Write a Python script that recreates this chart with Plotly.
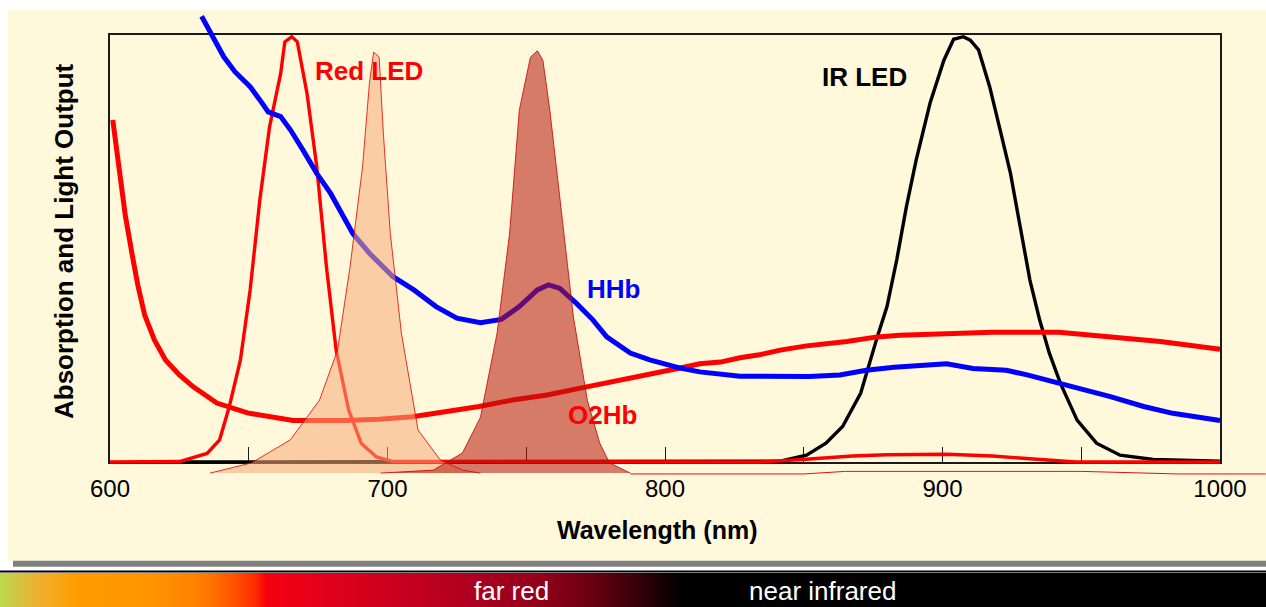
import numpy as np
import plotly.graph_objects as go

W, H = 1266, 607
FONT = "Liberation Sans, Arial, Helvetica, sans-serif"

# ---------------------------------------------------------------- data
# Oxy-haemoglobin absorption (relative units, 0-100 = plot height)
O2HB_NM = [601, 603, 605.5, 608, 610, 612.5, 616, 620, 625, 630, 638.5, 649.5,
           666, 685, 697, 709, 721.5, 733, 745, 757.5, 769.5, 787.5, 794.5,
           805.5, 812.5, 820, 827, 834, 841.5, 851, 865.5, 876.5, 884.5, 899,
           918, 942, 954, 966.5, 978.5, 1000]
O2HB_VAL = [80.1, 70.7, 57.8, 48.5, 41.5, 34.4, 28.6, 23.9, 20.4, 17.6, 13.8,
            11.5, 9.7, 9.7, 10.0, 10.6, 11.8, 13.0, 14.5, 15.7, 17.3, 19.6,
            20.4, 22.0, 23.0, 23.4, 24.4, 25.1, 26.2, 27.2, 28.2, 29.3, 29.7,
            30.1, 30.4, 30.4, 29.7, 29.0, 28.2, 26.4]

# Deoxy-haemoglobin absorption
HHB_NM = [633, 637, 641, 645, 650.5, 654, 657, 661.5, 665, 669.5, 674.5, 679.5,
          684, 687.5, 693.5, 702, 709.5, 717.5, 725, 733.5, 741, 747.5, 754,
          758, 762, 768, 774, 779, 787.5, 794.5, 805.5, 812.5, 827, 834, 852,
          863, 872.5, 882.5, 901.5, 911, 923, 930.5, 940, 949.5, 960.5, 972.5,
          983, 1000]
HHB_VAL = [104.4, 99.6, 94.9, 91.4, 87.9, 84.8, 82.0, 80.9, 77.8, 73.1, 67.6,
           62.9, 57.4, 53.5, 48.9, 43.4, 40.3, 36.4, 33.7, 32.6, 33.4, 36.4,
           40.3, 41.5, 40.7, 37.2, 33.3, 29.3, 25.5, 23.9, 22.0, 21.1, 20.1,
           20.0, 20.0, 20.4, 21.5, 22.2, 23.0, 21.9, 21.5, 20.4, 18.8, 17.3,
           15.3, 13.0, 11.4, 9.7]

# Red LED emission
RED_LED_NM = [600, 625, 635, 639.5, 643, 647, 650.5, 654, 657.5, 661.5, 663,
              665.5, 667.5, 671, 674.5, 678, 681.5, 686, 690.5, 696, 702, 834,
              849.5, 867.5, 880, 901.5, 918, 930, 948, 1000]
RED_LED_VAL = [0, 0.1, 2.0, 5.2, 13.0, 23.9, 40.3, 61.4, 78.5, 91.0, 98.4,
               99.6, 98.4, 86.3, 69.2, 45.7, 26.2, 12.2, 4.4, 1.2, 0.1, 0,
               0.6, 1.4, 1.7, 1.8, 1.4, 0.8, 0, 0]

# IR LED emission
IR_LED_NM = [627, 841.5, 851, 858, 864, 870.5, 876.5, 880, 883.5, 887, 890.5,
             895.5, 900.5, 904, 907.5, 910, 913, 917, 920.5, 924.5, 928, 931.5,
             935, 938.5, 942.5, 948.5, 955.5, 964, 976, 990, 1000]
IR_LED_VAL = [0, 0.2, 1.6, 4.4, 8.3, 16.1, 29.3, 36.4, 47.3, 59.8, 70.7, 84.0,
              94.1, 99.0, 99.6, 98.8, 96.5, 87.9, 78.5, 67.6, 55.1, 42.6, 33.3,
              25.5, 18.4, 9.8, 4.4, 1.6, 0.6, 0.3, 0.2]

# shaded emission bands (sit on a baseline slightly below zero)
BAND_695_NM = [636, 651, 665, 675.5, 682, 686.5, 691, 693.5, 695, 697, 698.5,
               701, 705, 709, 711, 719, 727, 733.5]
BAND_695_VAL = [-2.6, -0.2, 5.2, 14.5, 26.2, 45.7, 69.1, 88.8, 96.0, 94.8,
                77.0, 53.6, 30.2, 14.5, 7.5, 0.5, -1.9, -2.6]

BAND_755_NM = [697.5, 716.5, 727, 733.5, 739.5, 744, 747.5, 751.5, 754, 756,
               758.5, 763, 767, 772, 776.5, 780, 787.5]
BAND_755_VAL = [-2.6, -1.9, 2.1, 10.5, 30.2, 53.6, 82.4, 94.8, 96.3, 94.1,
                82.4, 57.4, 34.0, 14.5, 4.4, -0.2, -2.6]

BAND_NIR_NM = [787.5, 850, 865, 950, 985, 1016.5]
BAND_NIR_VAL = [-2.8, -2.8, -2.2, -2.2, -2.8, -2.8]

# wavelength axis ticks
TICK_NM = [600, 650, 700, 750, 800, 850, 900, 950, 1000]
TICK_TEXT = ["600", "", "700", "", "800", "", "900", "", "1000"]

# colour strip along the bottom: stop position (px) and colour
SPECTRUM_POS = [0, 40, 75, 150, 200, 232, 254, 266, 330, 410, 480, 540, 590,
                630, 660, 682, W]
SPECTRUM_COLORS = ["#BCD84C", "#F0AE30", "#FF9C00", "#FF9500", "#FF7F00",
                   "#FF5500", "#FF2C00", "#F5000F", "#E0001C", "#C4001E",
                   "#AA0020", "#920019", "#6A0012", "#3E000A", "#180002",
                   "#000000", "#000000"]

# ---------------------------------------------------------------- geometry
PLOT_L, PLOT_R, PLOT_T, PLOT_B = 110, 1220, 35, 462      # framed plot area
OV_L, OV_R, OV_T, OV_B = 110, 1266, 8, 484               # unclipped drawing area
X_MIN, X_MAX, Y_MIN, Y_MAX = 600, 1000, 0, 100

px_nm = (PLOT_R - PLOT_L) / (X_MAX - X_MIN)
px_unit = (PLOT_B - PLOT_T) / (Y_MAX - Y_MIN)
x2_range = [X_MIN - (PLOT_L - OV_L) / px_nm, X_MAX + (OV_R - PLOT_R) / px_nm]
y2_range = [Y_MIN - (OV_B - PLOT_B) / px_unit, Y_MAX + (PLOT_T - OV_T) / px_unit]


def fx(px):
    return px / W


def fy(py):
    return 1 - py / H


fig = go.Figure()

# curves (drawn on the unclipped overlay axes)
fig.add_trace(go.Scatter(x=IR_LED_NM, y=IR_LED_VAL, mode="lines",
                         line=dict(color="#000000", width=3.4),
                         xaxis="x2", yaxis="y2"))
fig.add_trace(go.Scatter(x=RED_LED_NM, y=RED_LED_VAL, mode="lines",
                         line=dict(color="#FF0000", width=3.4),
                         xaxis="x2", yaxis="y2"))
fig.add_trace(go.Scatter(x=O2HB_NM, y=O2HB_VAL, mode="lines",
                         line=dict(color="#FF0000", width=5),
                         xaxis="x2", yaxis="y2"))
fig.add_trace(go.Scatter(x=HHB_NM, y=HHB_VAL, mode="lines",
                         line=dict(color="#0000FF", width=5),
                         xaxis="x2", yaxis="y2"))

# translucent emission bands on top
fig.add_trace(go.Scatter(x=BAND_NIR_NM, y=BAND_NIR_VAL, mode="lines",
                         line=dict(color="#E01010", width=1),
                         xaxis="x2", yaxis="y2"))
fig.add_trace(go.Scatter(x=BAND_695_NM, y=BAND_695_VAL, mode="lines",
                         fill="toself", fillcolor="rgba(248,170,121,0.55)",
                         line=dict(color="#E00000", width=0.8),
                         xaxis="x2", yaxis="y2"))
fig.add_trace(go.Scatter(x=BAND_755_NM, y=BAND_755_VAL, mode="lines",
                         fill="toself", fillcolor="rgba(180,20,10,0.55)",
                         line=dict(color="#C80000", width=0.8),
                         xaxis="x2", yaxis="y2"))

# colour strip
strip_x = np.arange(0, W + 1, 2)
fig.add_trace(go.Heatmap(
    x=strip_x, y=[0], z=[strip_x], zmin=0, zmax=W, zsmooth="best",
    colorscale=[[p / W, c] for p, c in zip(SPECTRUM_POS, SPECTRUM_COLORS)],
    showscale=False, hoverinfo="skip", xaxis="x3", yaxis="y3"))

axis_line = dict(showline=True, linecolor="#1a1a1a", linewidth=1.5,
                 mirror=True, showgrid=False, zeroline=False, fixedrange=True,
                 automargin=False)
hidden = dict(visible=False, fixedrange=True, automargin=False,
              showgrid=False, zeroline=False)

fig.update_layout(
    template="none",
    width=W, height=H, autosize=False,
    margin=dict(l=0, r=0, t=0, b=0, pad=0),
    paper_bgcolor="#FFFFFF", plot_bgcolor="rgba(0,0,0,0)",
    showlegend=False, hovermode=False,
    font=dict(family=FONT, color="#000000"),
    xaxis=dict(domain=[fx(PLOT_L), fx(PLOT_R)], range=[X_MIN, X_MAX],
               tickmode="array", tickvals=TICK_NM, ticktext=TICK_TEXT,
               ticks="inside", ticklen=15, tickwidth=1, tickcolor="#1a1a1a",
               tickfont=dict(family=FONT, size=24, color="#000000"),
               ticklabelstandoff=4, anchor="y", **axis_line),
    yaxis=dict(domain=[fy(PLOT_B), fy(PLOT_T)], range=[Y_MIN, Y_MAX],
               showticklabels=False, ticks="", anchor="x", **axis_line),
    xaxis2=dict(domain=[fx(OV_L), fx(OV_R)], range=x2_range, anchor="y2",
                **hidden),
    yaxis2=dict(domain=[fy(OV_B), fy(OV_T)], range=y2_range, anchor="x2",
                **hidden),
    xaxis3=dict(domain=[0, 1], range=[0, W], anchor="y3", **hidden),
    yaxis3=dict(domain=[0, fy(573)], range=[-0.5, 0.5], anchor="x3",
                **hidden),
    shapes=[
        dict(type="rect", xref="paper", yref="paper", layer="below",
             x0=fx(8), x1=1, y0=fy(560.7), y1=fy(10),
             fillcolor="#FFF8DA", line=dict(width=0)),
        dict(type="rect", xref="paper", yref="paper", layer="below",
             x0=fx(13), x1=1, y0=fy(566.7), y1=fy(560.7),
             fillcolor="#808080", line=dict(width=0)),
        dict(type="line", xref="paper", yref="paper",
             x0=0, x1=1, y0=fy(571.5), y1=fy(571.5),
             line=dict(color="#000000", width=2)),
    ],
)

label_font = dict(family=FONT, size=26)
annotations = [
    dict(text="<b>Red LED</b>", x=693.5, y=91.6, color="#FF0000"),
    dict(text="<b>IR LED</b>", x=872, y=90.1, color="#000000"),
    dict(text="<b>HHb</b>", x=781.3, y=40.5, color="#0000FF"),
    dict(text="<b>O2Hb</b>", x=777.5, y=11.0, color="#FF0000"),
]
for a in annotations:
    fig.add_annotation(text=a["text"], x=a["x"], y=a["y"], xref="x", yref="y",
                       showarrow=False, xanchor="center", yanchor="middle",
                       font=dict(label_font, color=a["color"]))

fig.add_annotation(text="<b>Wavelength (nm)</b>", x=fx(657), y=fy(530),
                   xref="paper", yref="paper", showarrow=False,
                   xanchor="center", yanchor="middle",
                   font=dict(family=FONT, size=25, color="#000000"))
fig.add_annotation(text="<b>Absorption and Light Output</b>", x=fx(64),
                   y=fy(241), xref="paper", yref="paper", showarrow=False,
                   textangle=-90, xanchor="center", yanchor="middle",
                   font=dict(family=FONT, size=26, color="#000000"))
fig.add_annotation(text="far red", x=fx(511), y=fy(591), xref="paper",
                   yref="paper", showarrow=False, xanchor="center",
                   yanchor="middle",
                   font=dict(family=FONT, size=26, color="#FFFFFF"))
fig.add_annotation(text="near infrared", x=fx(822), y=fy(591), xref="paper",
                   yref="paper", showarrow=False, xanchor="center",
                   yanchor="middle",
                   font=dict(family=FONT, size=26, color="#FFFFFF"))

fig.write_html("out.html")
